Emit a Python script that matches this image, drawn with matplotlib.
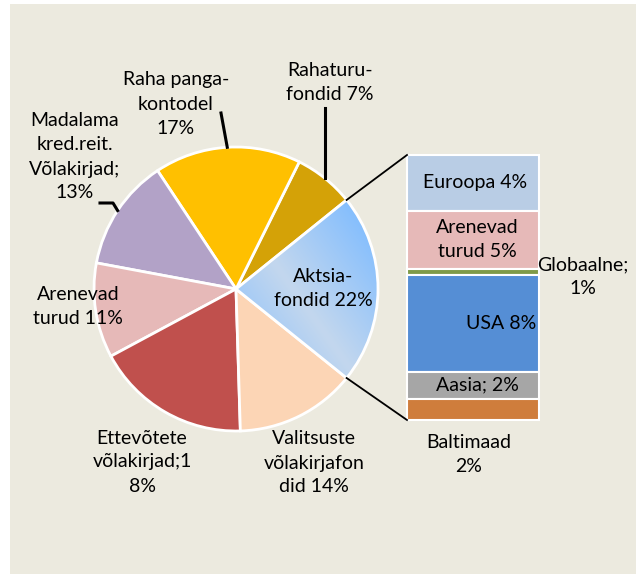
import numpy as np
import matplotlib.pyplot as plt
from matplotlib.colors import LinearSegmentedColormap

W, H = 636, 575

# pie data (counter-clockwise from the equity slice)
pie_labels = ["Aktsia-\nfondid 22%", "Rahaturu-\nfondid 7%", "Raha panga-\nkontodel\n17%",
              "Madalama\nkred.reit.\nVõlakirjad;\n13%", "Arenevad\nturud 11%",
              "Ettevõtete\nvõlakirjad;1\n8%", "Valitsuste\nvõlakirjafon\ndid 14%"]
pie_values = [22, 7, 17, 13, 11, 18, 14]
pie_colors = ["#93c1f7", "#d4a207", "#ffc000", "#b2a2c7", "#e6b9b8", "#c0504d", "#fcd5b5"]

# breakdown of the equity slice (top to bottom)
bar_labels = ["Euroopa 4%", "Arenevad\nturud 5%", "Globaalne;\n1%", "USA 8%", "Aasia; 2%", "Baltimaad\n2%"]
bar_values = [4.5, 4.7, 0.5, 7.8, 2.2, 1.7]
bar_colors = ["#b9cde5", "#e6b9b8", "#7f9a48", "#558ed5", "#a6a6a6", "#cf7d3c"]

plt.rcParams['font.family'] = ['Lato', 'DejaVu Sans']
FS = 14
LS = 1.5

fig = plt.figure(figsize=(W / 100, H / 100), dpi=100)
fig.patch.set_facecolor("white")
ax = fig.add_axes([0, 0, 1, 1])

def py(y):
    return H - y

# beige panel
ax.add_patch(plt.Rectangle((10, py(574)), W - 10, 570, facecolor="#eceadf", edgecolor="none", zorder=0))

cx, cy, r = 236, py(289), 142
total = sum(pie_values)
start = -pie_values[0] / total * 360 / 2
wedges, _ = ax.pie(pie_values, colors=pie_colors, startangle=start, counterclock=True,
                   center=(cx, cy), radius=r, frame=True,
                   wedgeprops=dict(edgecolor="white", linewidth=2))

# gradient fill on the equity slice
g = np.linspace(0, 1, 200)
gx, gy = np.meshgrid(g, g)
grad = np.clip(1 - np.abs((gx + (1 - gy)) - 0.9) * 1.1, 0, 1)
cmap = LinearSegmentedColormap.from_list("b", ["#7fbcff", "#c3d7ee"])
im = ax.imshow(grad, cmap=cmap, extent=(cx, cx + r, cy - r * 0.7, cy + r * 0.7),
               origin="upper", zorder=1.5, aspect="auto")
im.set_clip_path(wedges[0])
wedges[0].set_facecolor("none")
wedges[0].set_zorder(2)

# mid angles of wedges
angles = []
a = start
for v in pie_values:
    span = v / total * 360
    angles.append(a + span / 2)
    a += span

def edge(ang, rr=r):
    t = np.deg2rad(ang)
    return cx + rr * np.cos(t), cy + rr * np.sin(t)

# pie labels (pixel positions)
label_pos = [(323, 288), (330, 83), (176, 104), (75, 157), (78, 306), (142, 462), (314, 463)]
for lab, (x, y) in zip(pie_labels, label_pos):
    ax.text(x, py(y), lab, ha="center", va="center", fontsize=FS, linespacing=LS, zorder=5)

# leader lines
ex, ey = edge(angles[1])
ax.plot([ex, ex], [py(108), ey], color="black", lw=2.2, zorder=4)
ex, ey = edge(angles[2])
ax.plot([221, ex], [py(113), ey], color="black", lw=2.2, zorder=4)
ex, ey = edge(angles[3])
ax.plot([100, 113, ex], [py(203), py(203), ey], color="black", lw=2.2, zorder=4)

# stacked bar
bx0, bx1, btop, bbot = 407, 539, 155, 420
scale = (bbot - btop) / sum(bar_values)
y = btop
bar_pos = [(475, None), (477, None), (583, 277), (501, None), (477, None), (469, 455)]
for lab, v, c, (tx, ty) in zip(bar_labels, bar_values, bar_colors, bar_pos):
    h = v * scale
    ax.bar(bx0, h, width=bx1 - bx0, bottom=py(y + h), align="edge", color=c,
           edgecolor="white", linewidth=1.5, zorder=3)
    yy = y + h / 2 if ty is None else ty
    ax.text(tx, py(yy), lab, ha="center", va="center", fontsize=FS, linespacing=LS, zorder=5)
    y += h

# connector lines between slice and bar
x1, y1 = edge(start + pie_values[0] / total * 360)
x2, y2 = edge(start)
ax.plot([x1, bx0], [y1, py(btop)], color="black", lw=1.3, zorder=4)
ax.plot([x2, bx0], [y2, py(bbot)], color="black", lw=1.3, zorder=4)

ax.set_xlim(0, W)
ax.set_ylim(0, H)
ax.set_aspect("equal")
ax.axis("off")
fig.savefig("out.png", dpi=100, facecolor=fig.get_facecolor())
